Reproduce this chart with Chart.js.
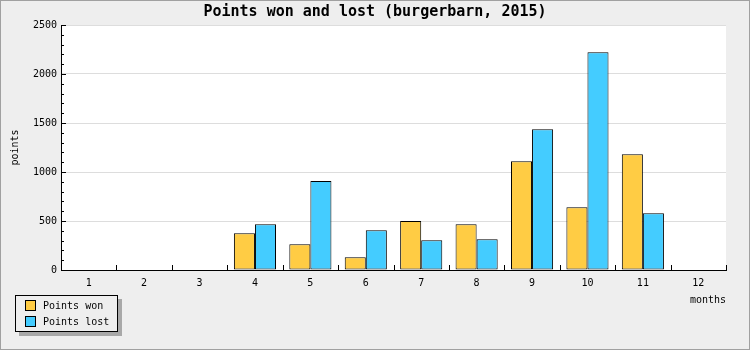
<!DOCTYPE html>
<html>
<head>
<meta charset="utf-8">
<script src="https://cdn.jsdelivr.net/npm/chart.js@4/dist/chart.umd.min.js"></script>
<style>
  html, body { margin: 0; padding: 0; background: #eeeeee; }
  #wrap { position: relative; width: 750px; height: 350px; box-sizing: border-box; }
  #wrap canvas { position: absolute; left: 0; top: 0; }
  #frame { position: absolute; left: 0; top: 0; width: 750px; height: 350px; box-sizing: border-box;
    border: 1px solid #a0a0a0; pointer-events: none; }
  #legend { position: absolute; left: 15px; top: 295px; width: 103px; height: 37px; box-sizing: border-box;
    border: 1px solid #000; background: #eeeeee; box-shadow: 4px 4px 0 #a8a8a8;
    font: 10px "DejaVu Sans Mono", monospace; color: #000; }
  #legend div { position: absolute; left: 9px; height: 12px; line-height: 12px; white-space: nowrap; }
  #legend span { display: inline-block; width: 9px; height: 9px; border: 1px solid #000;
    vertical-align: top; margin-top: 0px; margin-right: 7px; }
</style>
</head>
<body>
<div id="wrap">
  <canvas id="chart" width="750" height="350"></canvas>
  <div id="legend"></div>
  <div id="frame"></div>
</div>
<script>
// chart data
const months = ["1", "2", "3", "4", "5", "6", "7", "8", "9", "10", "11", "12"];
const pointsWon = [0, 0, 0, 375, 262, 130, 500, 466, 1110, 640, 1180, 0];
const pointsLost = [0, 0, 0, 468, 908, 405, 303, 313, 1436, 2221, 578, 0];
const seriesNames = ["Points won", "Points lost"];
const seriesColors = ["#ffcc44", "#44ccff"];

const monoFont = "'DejaVu Sans Mono', monospace";

// tick marks drawn inside the plot, like the original
const innerTicks = {
  id: "innerTicks",
  afterDraw(chart) {
    const ctx = chart.ctx;
    const area = chart.chartArea;
    const y = chart.scales.y;
    ctx.save();
    ctx.strokeStyle = "#000";
    ctx.lineWidth = 1;
    ctx.beginPath();
    for (let v = 0; v <= 2500; v += 100) {
      const py = Math.round(y.getPixelForValue(v)) + 0.5;
      const len = v % 500 === 0 ? 5 : 3;
      ctx.moveTo(area.left, py);
      ctx.lineTo(area.left + len, py);
    }
    const step = (area.right - area.left) / months.length;
    for (let i = 1; i <= months.length; i++) {
      const px = Math.round(area.left + i * step) + 0.5;
      ctx.moveTo(px, area.bottom);
      ctx.lineTo(px, area.bottom - 5);
    }
    ctx.stroke();
    ctx.restore();
  },
};

const plotBg = {
  id: "plotBg",
  beforeDraw(chart) {
    const { ctx, chartArea: a } = chart;
    ctx.save();
    ctx.fillStyle = "#ffffff";
    ctx.fillRect(a.left, a.top, a.right - a.left, a.bottom - a.top);
    ctx.restore();
  },
};

new Chart(document.getElementById("chart"), {
  type: "bar",
  data: {
    labels: months,
    datasets: [
      {
        label: seriesNames[0],
        data: pointsWon,
        backgroundColor: seriesColors[0],
        borderColor: "#000",
        borderWidth: 1,
        borderSkipped: false,
      },
      {
        label: seriesNames[1],
        data: pointsLost,
        backgroundColor: seriesColors[1],
        borderColor: "#000",
        borderWidth: 1,
        borderSkipped: false,
      },
    ],
  },
  options: {
    responsive: false,
    animation: false,
    layout: { padding: 0 },
    datasets: { bar: { categoryPercentage: 0.76, barPercentage: 1.0 } },
    plugins: {
      legend: { display: false },
      tooltip: { enabled: false },
      title: {
        display: true,
        text: "Points won and lost (burgerbarn, 2015)",
        color: "#000",
        font: { family: monoFont, size: 15, weight: "bold", lineHeight: "16px" },
        padding: { top: 4, bottom: 5 },
      },
    },
    scales: {
      x: {
        grid: { display: false, drawTicks: false },
        border: { color: "#000", width: 1 },
        ticks: { color: "#000", font: { family: monoFont, size: 10 }, padding: 7 },
        title: {
          display: true,
          text: "months",
          align: "end",
          color: "#000",
          font: { family: monoFont, size: 10, lineHeight: "12px" },
          padding: { top: 0, bottom: 44 },
        },
        afterFit(s) { s.height = 80; },
      },
      y: {
        min: 0,
        max: 2500,
        ticks: {
          stepSize: 500,
          color: "#000",
          font: { family: monoFont, size: 10 },
          padding: 4,
          callback: (v) => String(v),
        },
        grid: { color: "#dddddd", drawTicks: false },
        border: { color: "#000", width: 1 },
        title: {
          display: true,
          text: "points",
          color: "#000",
          font: { family: monoFont, size: 10, lineHeight: "12px" },
          padding: { top: 9, bottom: 0 },
        },
        afterFit(s) { s.width = 61; },
      },
      yRight: {
        position: "right",
        display: true,
        grid: { display: false, drawTicks: false },
        border: { display: false },
        ticks: { display: false },
        afterFit(s) { s.width = 24; },
      },
    },
  },
  plugins: [plotBg, innerTicks],
});

// legend as html, with the drop shadow
const legend = document.getElementById("legend");
seriesNames.forEach((name, i) => {
  const row = document.createElement("div");
  row.style.top = (4 + i * 16) + "px";
  const sw = document.createElement("span");
  sw.style.background = seriesColors[i];
  row.appendChild(sw);
  row.appendChild(document.createTextNode(name));
  legend.appendChild(row);
});
</script>
</body>
</html>
